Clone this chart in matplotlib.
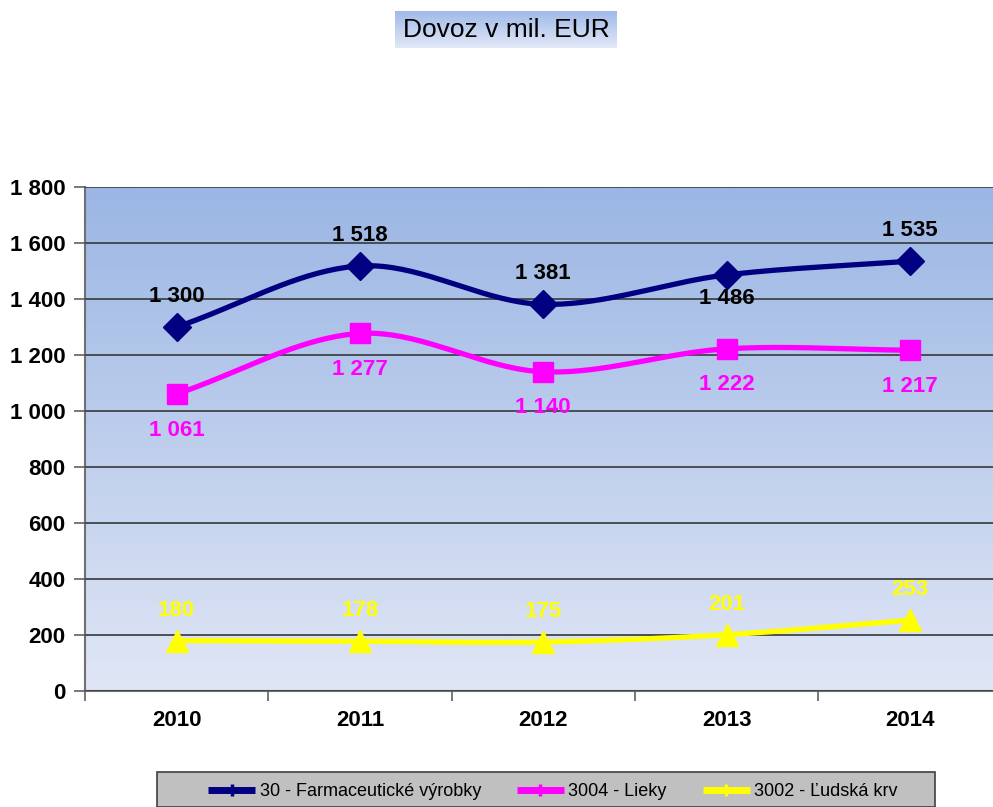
import numpy as np
import matplotlib
matplotlib.use("Agg")
import matplotlib.pyplot as plt
from matplotlib.patches import Rectangle

plt.rcParams['font.family'] = ['Liberation Sans', 'DejaVu Sans']

# data
years = ["2010", "2011", "2012", "2013", "2014"]
farma = [1300, 1518, 1381, 1486, 1535]
lieky = [1061, 1277, 1140, 1222, 1217]
krv = [180, 178, 175, 201, 253]
names = ["30 - Farmaceutické výrobky", "3004 - Lieky", "3002 - Ľudská krv"]
# label placement: +1 above, -1 below
farma_pos = [1, 1, 1, -1, 1]
lieky_pos = [-1, -1, -1, -1, -1]
krv_pos = [1, 1, 1, 1, 1]


def fmt(v):
    return f"{v:,}".replace(",", " ")


def smooth(x, y, n=40):
    # catmull-rom through the points, like excel's smoothed line
    x = np.asarray(x, float)
    y = np.asarray(y, float)
    px = np.concatenate([[2 * x[0] - x[1]], x, [2 * x[-1] - x[-2]]])
    py = np.concatenate([[2 * y[0] - y[1]], y, [2 * y[-1] - y[-2]]])
    xs, ys = [], []
    t = np.linspace(0, 1, n)
    for i in range(1, len(px) - 2):
        for p, out in ((px, xs), (py, ys)):
            p0, p1, p2, p3 = p[i - 1], p[i], p[i + 1], p[i + 2]
            out.extend(0.5 * (2 * p1 + (-p0 + p2) * t
                              + (2 * p0 - 5 * p1 + 4 * p2 - p3) * t ** 2
                              + (-p0 + 3 * p1 - 3 * p2 + p3) * t ** 3))
    return np.array(xs), np.array(ys)


W, H = 993, 807
fig = plt.figure(figsize=(W / 100, H / 100), dpi=100)
left, right, top, bottom = 85, 993, 187, 691
ax = fig.add_axes([left / W, 1 - bottom / H, (right - left) / W, (bottom - top) / H])

x = np.arange(len(years))
step = 183.3
xmax = -0.5 + (right - left) / step

# gradient background
grad = np.linspace(0, 1, 256).reshape(-1, 1)
c_top = np.array([155, 182, 228]) / 255
c_bot = np.array([224, 230, 245]) / 255
img = c_top[None, None, :] * (1 - grad[:, :, None]) + c_bot[None, None, :] * grad[:, :, None]
ax.imshow(img, extent=[-0.5, xmax, 0, 1800], aspect='auto', zorder=0)

ax.set_yticks(np.arange(0, 1801, 200))
ax.set_yticklabels([fmt(v) for v in range(0, 1801, 200)], fontsize=16, fontweight='bold')
ax.yaxis.grid(True, color='#404448', linewidth=1.3, zorder=1)
ax.set_axisbelow(False)

ax.set_xticks(x)
ax.set_xticklabels(years, fontsize=16, fontweight='bold')
ax.set_xticks(np.arange(-0.5, 4.0, 1), minor=True)
ax.tick_params(axis='x', which='major', length=0, pad=14)
ax.tick_params(axis='x', which='minor', length=7, width=1.2, color='#606060', direction='out')
ax.tick_params(axis='y', length=8, width=1.2, color='#606060', direction='out', pad=6)

for s in ['top', 'right']:
    ax.spines[s].set_visible(False)
for s in ['left', 'bottom']:
    ax.spines[s].set_color('#707070')
    ax.spines[s].set_linewidth(1.5)

series = [
    (farma, '#000080', 'D', 14, 'black', farma_pos, 22, 17),
    (lieky, '#ff00ff', 's', 15, '#ff00ff', lieky_pos, 24, 26),
    (krv, '#ffff00', '^', 16, '#ffff00', krv_pos, 22, 22),
]
handles = []
for vals, col, mk, ms, tcol, pos, up, dn in series:
    sx, sy = smooth(x, vals)
    ax.plot(sx, sy, color=col, linewidth=3.8, zorder=3, solid_capstyle='round')
    ax.plot(x, vals, linestyle='none', marker=mk, markersize=ms, color=col, zorder=4)
    h, = ax.plot([], [], color=col, linewidth=5, marker='+', markersize=8,
                 markeredgewidth=2.5, solid_capstyle='butt')
    handles.append(h)
    for xi, v, p in zip(x, vals, pos):
        ax.annotate(fmt(v), (xi, v), xytext=(0, up if p > 0 else -dn),
                    textcoords='offset points', ha='center', va='center',
                    fontsize=16, fontweight='bold', color=tcol, zorder=5)

ax.set_xlim(-0.5, xmax)
ax.set_ylim(0, 1800)

# title in a gradient box
tax = fig.add_axes([395 / W, 1 - 48 / H, 222 / W, 37 / H])
tgrad = np.linspace(0, 1, 64).reshape(-1, 1)
t_top = np.array([160, 186, 232]) / 255
t_bot = np.array([226, 232, 247]) / 255
timg = t_top[None, None, :] * (1 - tgrad[:, :, None]) + t_bot[None, None, :] * tgrad[:, :, None]
tax.imshow(timg, extent=[0, 1, 0, 1], aspect='auto')
tax.set_axis_off()
tax.text(0.5, 0.48, "Dovoz v mil. EUR", ha='center', va='center', fontsize=19,
         transform=tax.transAxes)

# legend box
fig.patches.append(Rectangle((157 / W, 0), (935 - 157) / W, (H - 772) / H,
                             transform=fig.transFigure, facecolor='#c0c0c0',
                             edgecolor='#404040', linewidth=1.2, zorder=0))
fig.legend(handles, names, loc='center', bbox_to_anchor=(553 / W, 1 - 792 / H),
           ncol=3, frameon=False, fontsize=13, handlelength=2.6, handletextpad=0.25,
           columnspacing=2.0)

fig.savefig("out.png", dpi=100)
